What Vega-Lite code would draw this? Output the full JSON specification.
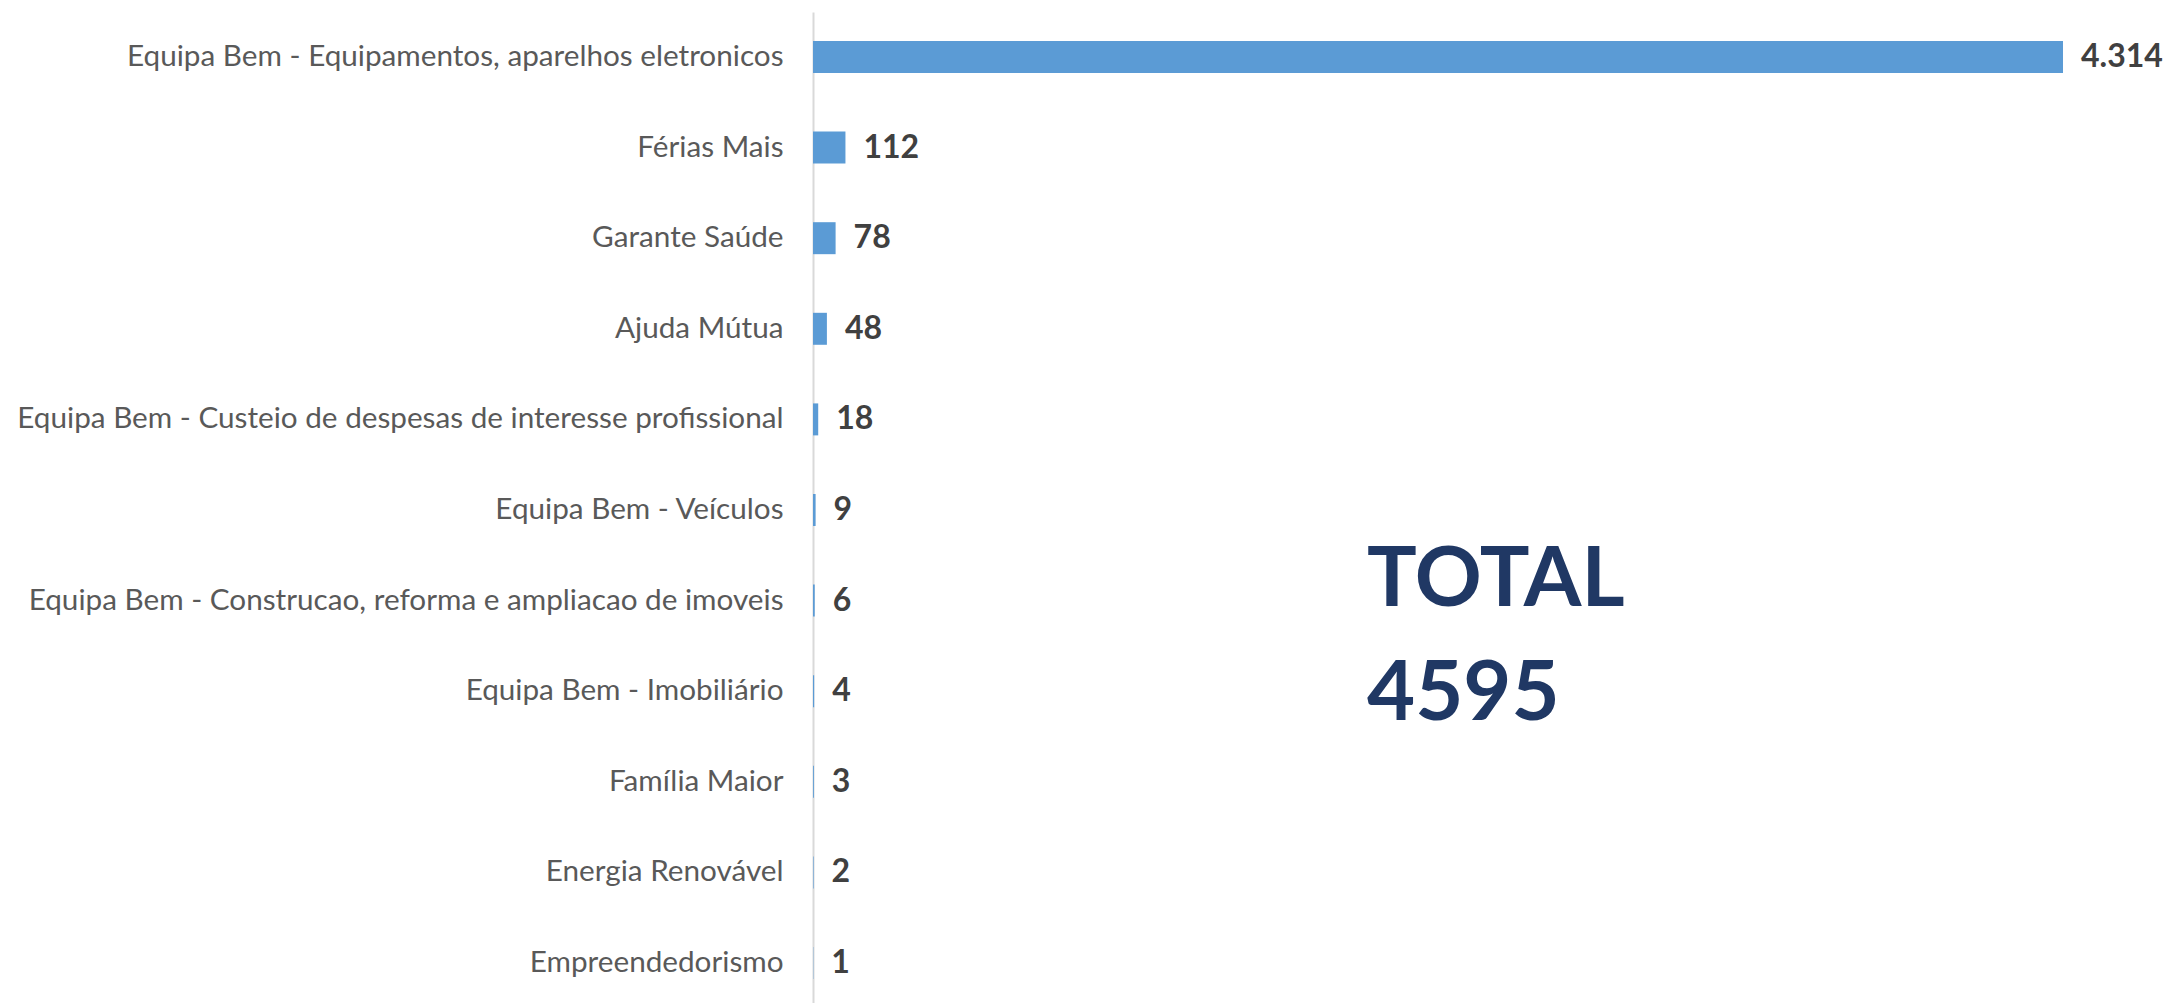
{
  "$schema": "https://vega.github.io/schema/vega-lite/v6.json",
  "width": 1250,
  "height": 996,
  "autosize": {"type": "none"},
  "padding": {"left": 813, "top": 12, "right": 106, "bottom": 0},
  "config": {
    "view": {"stroke": null},
    "font": "Lato",
    "locale": {"number": {"decimal": ",", "thousands": ".", "grouping": [3], "currency": ["R$", ""]}}
  },
  "datasets": {
    "bars": [
      {"categoria": "Equipa Bem - Equipamentos, aparelhos eletronicos", "qtd": 4314},
      {"categoria": "Férias Mais", "qtd": 112},
      {"categoria": "Garante Saúde", "qtd": 78},
      {"categoria": "Ajuda Mútua", "qtd": 48},
      {"categoria": "Equipa Bem - Custeio de despesas de interesse profissional", "qtd": 18},
      {"categoria": "Equipa Bem - Veículos", "qtd": 9},
      {"categoria": "Equipa Bem - Construcao, reforma e ampliacao de imoveis", "qtd": 6},
      {"categoria": "Equipa Bem - Imobiliário", "qtd": 4},
      {"categoria": "Família Maior", "qtd": 3},
      {"categoria": "Energia Renovável", "qtd": 2},
      {"categoria": "Empreendedorismo", "qtd": 1}
    ],
    "total1": [{"categoria": "Equipa Bem - Construcao, reforma e ampliacao de imoveis", "qtd": 1912, "texto": "TOTAL"}],
    "total2": [{"categoria": "Equipa Bem - Imobiliário", "qtd": 1912, "texto": "4595"}]
  },
  "encoding": {
    "y": {
      "field": "categoria",
      "type": "nominal",
      "sort": [
        "Equipa Bem - Equipamentos, aparelhos eletronicos",
        "Férias Mais",
        "Garante Saúde",
        "Ajuda Mútua",
        "Equipa Bem - Custeio de despesas de interesse profissional",
        "Equipa Bem - Veículos",
        "Equipa Bem - Construcao, reforma e ampliacao de imoveis",
        "Equipa Bem - Imobiliário",
        "Família Maior",
        "Energia Renovável",
        "Empreendedorismo"
      ],
      "scale": {"paddingInner": 0.647, "paddingOuter": 0.32},
      "axis": {
        "title": null,
        "ticks": false,
        "labelFontSize": 29.7,
        "labelFont": "Lato",
        "labelColor": "#595959",
        "labelPadding": 30,
        "labelLimit": 0,
        "domainColor": "#D9D9D9",
        "domainWidth": 2
      }
    },
    "x": {
      "field": "qtd",
      "type": "quantitative",
      "scale": {"domain": [0, 4314], "nice": false},
      "axis": null
    }
  },
  "layer": [
    {
      "data": {"name": "bars"},
      "mark": {"type": "bar", "color": "#5B9BD5"}
    },
    {
      "data": {"name": "bars"},
      "mark": {"type": "text", "align": "left", "baseline": "middle", "dx": 18, "fontSize": 32, "fontWeight": "bold", "color": "#404040", "font": "Lato"},
      "encoding": {"text": {"field": "qtd", "type": "quantitative", "format": ",d"}}
    },
    {
      "data": {"name": "total1"},
      "mark": {"type": "text", "align": "left", "baseline": "middle", "dy": -20, "fontSize": 83, "fontWeight": "bold", "color": "#203864", "font": "Lato"},
      "encoding": {"text": {"field": "texto", "type": "nominal"}}
    },
    {
      "data": {"name": "total2"},
      "mark": {"type": "text", "align": "left", "baseline": "middle", "dy": 4, "fontSize": 83, "fontWeight": "bold", "color": "#203864", "font": "Lato"},
      "encoding": {"text": {"field": "texto", "type": "nominal"}}
    }
  ]
}
